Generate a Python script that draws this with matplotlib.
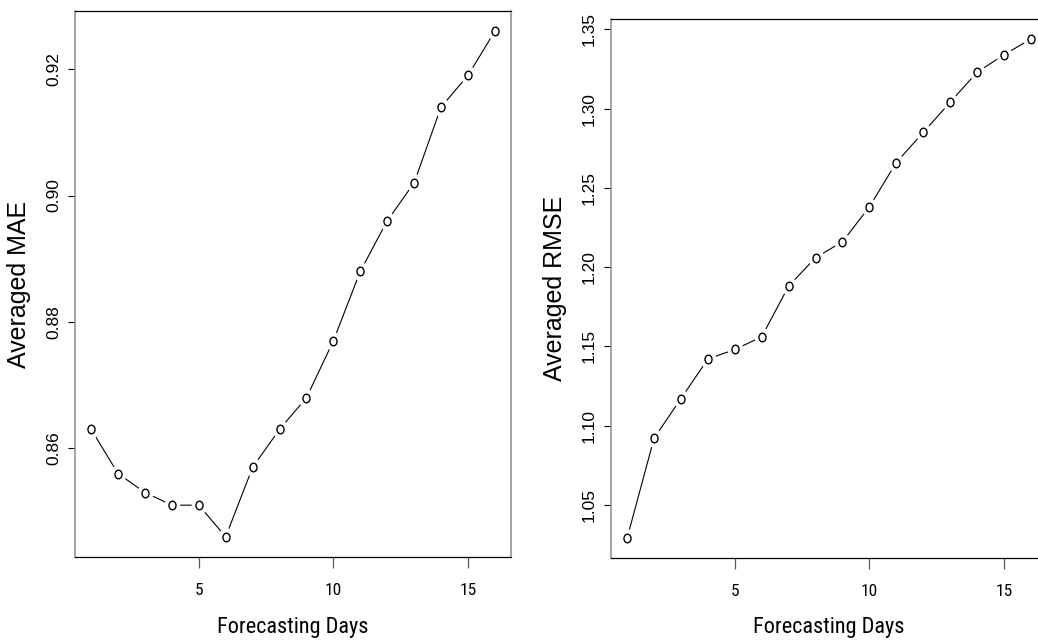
import matplotlib
matplotlib.use("Agg")
import matplotlib.pyplot as plt
from matplotlib.path import Path
from matplotlib.transforms import Affine2D

days = list(range(1, 17))
mae = [0.863, 0.856, 0.853, 0.851, 0.851, 0.846, 0.857, 0.863,
       0.868, 0.877, 0.888, 0.896, 0.902, 0.914, 0.919, 0.926]
rmse = [1.029, 1.092, 1.117, 1.142, 1.148, 1.156, 1.188, 1.206,
        1.216, 1.238, 1.266, 1.285, 1.304, 1.323, 1.334, 1.344]

xticks = [5, 10, 15]
mae_ticks = [0.86, 0.88, 0.90, 0.92]
rmse_ticks = [1.05, 1.10, 1.15, 1.20, 1.25, 1.30, 1.35]
xlab = "Forecasting Days"

# x-axis text in the reference is squeezed, so use a narrow face
narrow = ["Liberation Sans Narrow", "Roboto Condensed", "Archivo Narrow",
          "PT Sans Narrow", "DejaVu Sans"]
regular = ["Liberation Sans", "DejaVu Sans"]

# letter-"o" like marker: slightly taller than wide
oval = Path.unit_circle().transformed(Affine2D().scale(0.82, 1.0))

fig = plt.figure(figsize=(10.38, 6.43), dpi=100)
W, H = 1038, 643


def r_axes(box, y, ticks, ylab):
    x0, y0, x1, y1 = box
    ax = fig.add_axes([x0 / W, 1 - y1 / H, (x1 - x0) / W, (y1 - y0) / H])
    ax.plot(days, y, color="k", lw=0.8, zorder=2)
    ax.plot(days, y, ls="none", marker=oval, ms=12.5, mfc="white",
            mec="white", zorder=3)
    ax.plot(days, y, ls="none", marker=oval, ms=6.2, mfc="none",
            mec="k", mew=1.0, zorder=4)

    ax.set_xlim(0.4, 16.6)
    pad = 0.04 * (max(y) - min(y))
    ax.set_ylim(min(y) - pad, max(y) + pad)

    ax.set_xticks(xticks)
    ax.set_xticklabels([str(t) for t in xticks], fontsize=12.5, family=narrow)
    ax.set_yticks(ticks)
    ax.set_yticklabels(["%.2f" % t for t in ticks], fontsize=12.5,
                       family=regular, rotation=90, va="center")
    ax.tick_params(axis="x", length=8, width=0.9, color="0.35", pad=11)
    ax.tick_params(axis="y", length=5, width=0.8, color="k", pad=5)

    for s in ["top", "bottom"]:
        ax.spines[s].set_color("k")
        ax.spines[s].set_linewidth(0.9)
    for s in ["left", "right"]:
        ax.spines[s].set_color("0.55")
        ax.spines[s].set_linewidth(1.1)

    ax.set_xlabel(xlab, fontsize=16, va="center", family=narrow)
    ax.xaxis.set_label_coords(0.5, -(628 - y1) / (y1 - y0))
    ax.set_ylabel(ylab, fontsize=18, family=regular, va="center")
    ax.yaxis.set_label_coords(-56 / (x1 - x0), 0.5)
    return ax


r_axes((75, 11, 511, 557), mae, mae_ticks, "Averaged MAE")
r_axes((611, 19, 1047, 558), rmse, rmse_ticks, "Averaged RMSE")

fig.savefig("out.png", dpi=100)
